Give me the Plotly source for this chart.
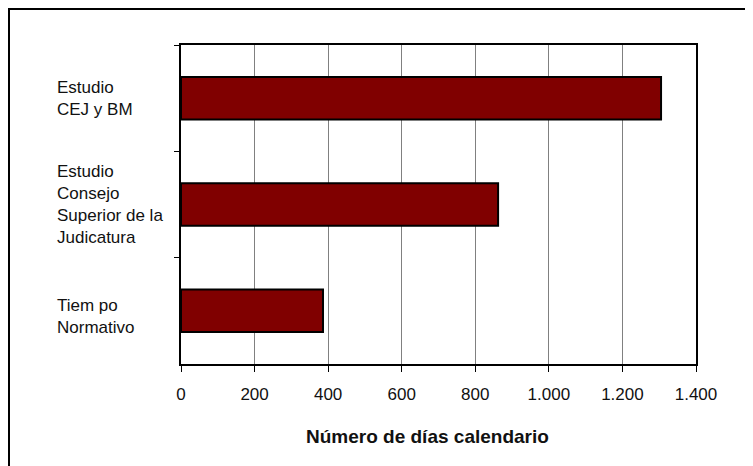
import plotly.graph_objects as go

categories = ["Estudio<br>CEJ y BM",
              "Estudio<br>Consejo<br>Superior de la<br>Judicatura",
              "Tiem po<br>Normativo"]
values = [1305, 862, 386]
tick_vals = [0, 200, 400, 600, 800, 1000, 1200, 1400]
x_title = "Número de días calendario"

FONT = "Arial, Liberation Sans, sans-serif"
OFF = 8  # page body margin
W, H = 753, 466
pw, ph = 515, 319
L, T = 181 - OFF, 45 - OFF
R, B = W - L - pw, H - T - ph

def px_x(px):
    return (px - OFF - L) / pw

def px_y(py):
    return (T + ph - (py - OFF)) / ph

fig = go.Figure(go.Bar(
    x=values, y=categories, orientation="h",
    marker=dict(color="#800000", line=dict(color="black", width=2)),
    width=0.4, hoverinfo="x+y",
))

fig.update_layout(
    width=W, height=H,
    margin=dict(l=L, r=R, t=T, b=B, pad=0),
    paper_bgcolor="white", plot_bgcolor="white",
    separators=",.",
    showlegend=False,
    font=dict(family=FONT, size=17, color="black"),
    xaxis=dict(range=[0, 1400], tickvals=tick_vals, tickformat=",",
               showgrid=True, gridcolor="#808080", gridwidth=1,
               showline=True, linecolor="black", linewidth=2, mirror=True,
               ticks="outside", ticklen=6, tickcolor="black", tickwidth=1,
               ticklabelstandoff=8,
               tickfont=dict(size=17, color="#111"), zeroline=False),
    yaxis=dict(categoryorder="array", categoryarray=categories,
               autorange="reversed", showticklabels=False,
               showline=True, linecolor="black", linewidth=2, mirror=True,
               ticks="outside", ticklen=5, tickson="boundaries",
               tickcolor="black", showgrid=False, zeroline=False),
)

shifts = [0, 0, -6]
for cat, s in zip(categories, shifts):
    fig.add_annotation(x=px_x(55), xref="paper", y=cat, yref="y",
                       text=cat, showarrow=False, xanchor="left", align="left",
                       yshift=s, font=dict(family=FONT, size=17, color="#111"))

fig.add_annotation(x=px_x(427), y=px_y(436), xref="paper", yref="paper",
                   text="<b>" + x_title + "</b>", showarrow=False,
                   xanchor="center", yanchor="middle",
                   font=dict(family=FONT, size=19, color="#111"))

# outer frame (left and top edges)
fig.add_shape(type="line", xref="paper", yref="paper",
              x0=px_x(9), x1=px_x(9), y0=px_y(8), y1=px_y(480),
              line=dict(color="black", width=2))
fig.add_shape(type="line", xref="paper", yref="paper",
              x0=px_x(8), x1=px_x(770), y0=px_y(9), y1=px_y(9),
              line=dict(color="black", width=2))

fig.write_html("out.html")
